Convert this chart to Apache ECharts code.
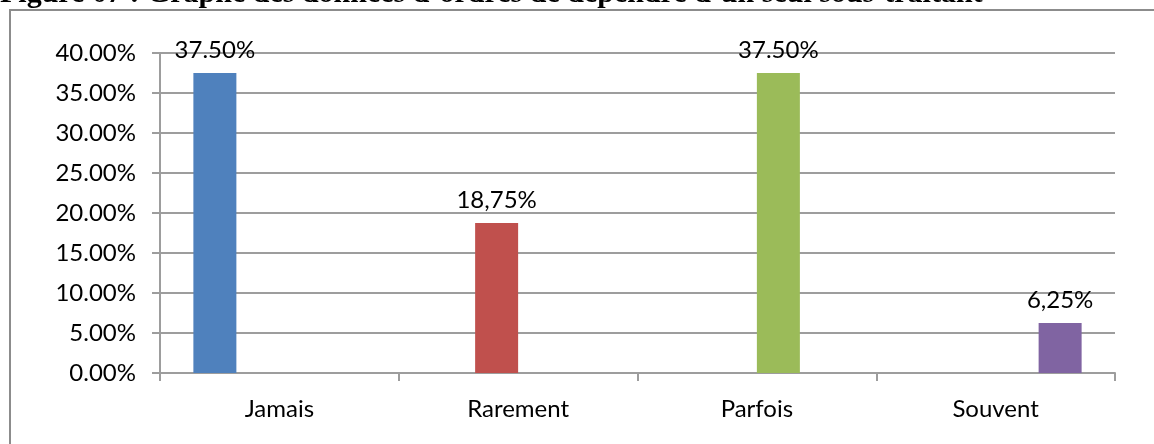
<!DOCTYPE html>
<html>
<head>
<meta charset="utf-8">
<script src="https://cdn.jsdelivr.net/npm/echarts@6/dist/echarts.min.js"></script>
<style>
  html, body { margin: 0; padding: 0; background: #ffffff; }
  #chart { width: 1154px; height: 444px; }
</style>
</head>
<body>
<div id="chart"></div>
<script>
// Response categories and their share of respondents (%)
const categories = ['Jamais', 'Rarement', 'Parfois', 'Souvent'];
const shares = [37.5, 18.75, 37.5, 6.25];
const shareLabels = ['37.50%', '18,75%', '37.50%', '6,25%'];
const barColors = ['#4F81BD', '#C0504D', '#9BBB59', '#8064A2'];
const yMin = 0, yMax = 40, yStep = 5;
const caption = 'Figure 07 : Graphe des données d\u2019ordres de dépendre d\u2019un seul sous-traitant';

const labelFont = 'Lato';
const gridColor = '#9d9d9d';

// One series per category so each bar keeps its own slot inside the group
const series = categories.map((name, i) => ({
  name: name,
  type: 'bar',
  barWidth: 43,
  barGap: '0%',
  data: categories.map((_, j) => (j === i ? shares[i] : '-')),
  itemStyle: { color: barColors[i] },
  label: {
    show: true,
    position: 'top',
    distance: 11,
    color: '#000',
    fontFamily: labelFont,
    fontSize: 24,
    formatter: () => shareLabels[i]
  },
  emphasis: { disabled: true }
}));

const chart = echarts.init(document.getElementById('chart'), null, { renderer: 'canvas' });
chart.setOption({
  animation: false,
  backgroundColor: '#ffffff',
  grid: { left: 160, right: 39, top: 53, bottom: 71, containLabel: false },
  xAxis: {
    type: 'category',
    data: categories,
    boundaryGap: true,
    axisLine: { show: true, lineStyle: { color: gridColor, width: 2 } },
    axisTick: { show: true, length: 8, alignWithLabel: false, lineStyle: { color: gridColor, width: 2 } },
    axisLabel: { color: '#000', fontFamily: labelFont, fontSize: 24, margin: 24 },
    splitLine: { show: false }
  },
  yAxis: {
    type: 'value',
    min: yMin,
    max: yMax,
    interval: yStep,
    axisLine: { show: true, lineStyle: { color: gridColor, width: 2 } },
    axisTick: { show: true, length: 8, lineStyle: { color: gridColor, width: 2 } },
    axisLabel: {
      color: '#000', fontFamily: labelFont, fontSize: 24, margin: 24,
      formatter: v => v.toFixed(2) + '%'
    },
    splitLine: { show: true, lineStyle: { color: gridColor, width: 2 } }
  },
  graphic: [
    {
      type: 'rect',
      silent: true,
      z: -10,
      shape: { x: 10, y: 10, width: 1400, height: 700 },
      style: { fill: 'none', stroke: '#8c8c8c', lineWidth: 2 }
    },
    {
      type: 'text',
      silent: true,
      left: 0,
      top: -21,
      style: {
        text: caption,
        fill: '#000',
        font: 'bold 30px "Liberation Serif"'
      }
    }
  ],
  series: series
});
</script>
</body>
</html>
